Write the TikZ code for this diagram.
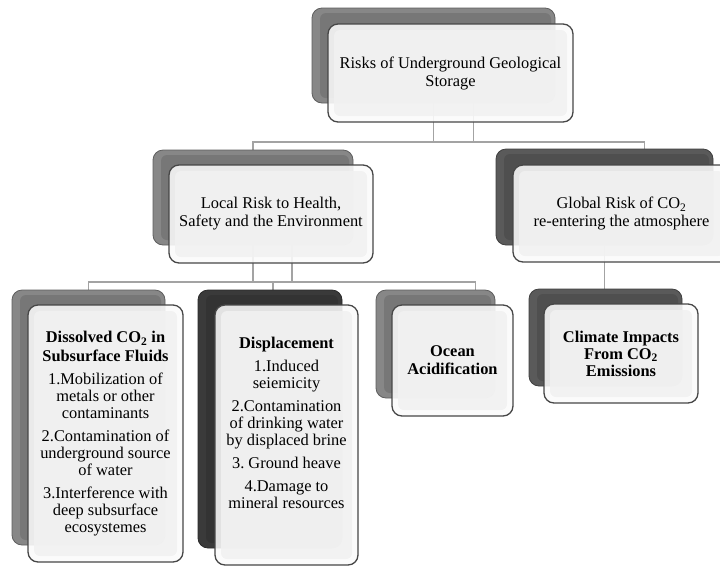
\documentclass[tikz,border=0pt]{standalone}
\usepackage{fontspec}
\setmainfont{Liberation Serif}
\usetikzlibrary{backgrounds}
\frenchspacing

\definecolor{cinzaMedio}{HTML}{878787}
\definecolor{cinzaEscuro}{HTML}{5A5A5A}
\definecolor{cinzaPreto}{HTML}{3A3A3A}
\definecolor{linha}{HTML}{A3A3A3}

\begin{document}
\begin{tikzpicture}[x=1pt, y=-1pt]
    \tikzstyle{caixa}=[draw=black!72, fill=gray!3, fill opacity=0.88, text opacity=1, rounded corners=10pt, line width=1.3pt, inner sep=0pt, align=center, font=\fontsize{16.4}{18}\selectfont,
        path picture={\fill[gray!11, rounded corners=6pt] ([shift={(6pt,6pt)}]path picture bounding box.south west) rectangle ([shift={(-6pt,-6pt)}]path picture bounding box.north east);}]
    \tikzstyle{lista}=[font=\fontsize{16.4}{17}\selectfont]
    \tikzstyle{liga}=[draw=linha, line width=1.5pt]
    \tikzset{tam/.style 2 args={minimum width=#1pt, minimum height=#2pt},
        fundo/.style={fill=#1, draw=#1!70!black, rounded corners=10pt, inner sep=0pt, line width=0.8pt,
        path picture={\fill[#1!88!black, rounded corners=6pt] ([shift={(8pt,5pt)}]path picture bounding box.south west) rectangle ([shift={(-4pt,-5pt)}]path picture bounding box.north east);}}}

    \useasboundingbox (0,0) rectangle (720,566);
    \clip (0,0) rectangle (720,566);

    % Caixas de fundo
    \node[fundo=cinzaMedio, tam={243}{95}] (topoA) at (433.5,55.5) {};
    \node[fundo=cinzaMedio, tam={200}{95}] (localA) at (253,197.5) {};
    \node[fundo=cinzaEscuro, tam={217}{96}] (globalA) at (604.5,197) {};
    \node[fundo=cinzaMedio, tam={153}{255}] (dissolvA) at (88.5,417.5) {};
    \node[fundo=cinzaPreto, tam={144}{258}] (deslocA) at (270,419) {};
    \node[fundo=cinzaMedio, tam={119}{108}] (oceanoA) at (435.5,344) {};
    \node[fundo=cinzaEscuro, tam={153}{97}] (climaA) at (605.5,337.5) {};

    % Caixas da frente
    \node[caixa, tam={245}{98}] (topoF) at (450.5,73) {Risks of Underground Geological\\Storage};
    \node[caixa, tam={204}{98}] (localF) at (271,214) {Local Risk to Health,\\Safety and the Environment};
    \node[caixa, tam={217}{97}] (globalF) at (621.5,213.5) {Global Risk of CO\textsubscript{2}\\re-entering the atmosphere};
    \node[caixa, lista, tam={155}{257}] (dissolvF) at (105.5,433.5) {\textbf{Dissolved CO\textsubscript{2} in}\\[2pt]\textbf{Subsurface Fluids}\\[6pt]1.Mobilization of\\metals or other\\contaminants\\[6pt]2.Contamination of\\underground source\\of water\\[6pt]3.Interference with\\deep subsurface\\ecosystemes};
    \node[caixa, lista, tam={143}{260}] (deslocF) at (286.5,435) {\textbf{Displacement}\\[6pt]1.Induced\\seiemicity\\[6pt]2.Contamination\\of drinking water\\by displaced brine\\[6pt]3. Ground heave\\[6pt]4.Damage to\\mineral resources\\[8pt]\mbox{}};
    \node[caixa, tam={121}{111}] (oceanoF) at (452.5,360.5) {\textbf{Ocean}\\\textbf{Acidification}};
    \node[caixa, lista, tam={154}{99}] (climaF) at (621,353.5) {\textbf{Climate Impacts}\\\textbf{From CO\textsubscript{2}}\\\textbf{Emissions}};

    % Ligações
    \coordinate (barra1) at (0,142);
    \coordinate (barra2) at (0,282);
    \coordinate (saidaT) at ([xshift=40pt]topoA.south);
    \coordinate (saidaL) at ([xshift=39pt]localA.south);
    \coordinate (entradaG) at ([xshift=40pt]globalA.north);
    \coordinate (entradaD) at ([xshift=3pt]deslocA.north);
    \coordinate (entradaO) at ([xshift=40pt]oceanoA.north);
    \begin{scope}[on background layer]
        \draw[liga] (saidaT) |- (barra1 -| localA.north) -- (localA.north);
        \draw[liga] (topoA.south) |- (barra1 -| entradaG) -- (entradaG);
        \draw[liga] (saidaL) |- (barra2 -| dissolvA.north) -- (dissolvA.north);
        \draw[liga] (localA.south) |- (barra2 -| entradaD) -- (entradaD);
        \draw[liga] (localA.south) |- (barra2 -| entradaO) -- (entradaO);
        \draw[liga] (globalA.south) -- (globalA.south |- climaA.north);
    \end{scope}
\end{tikzpicture}
\end{document}
